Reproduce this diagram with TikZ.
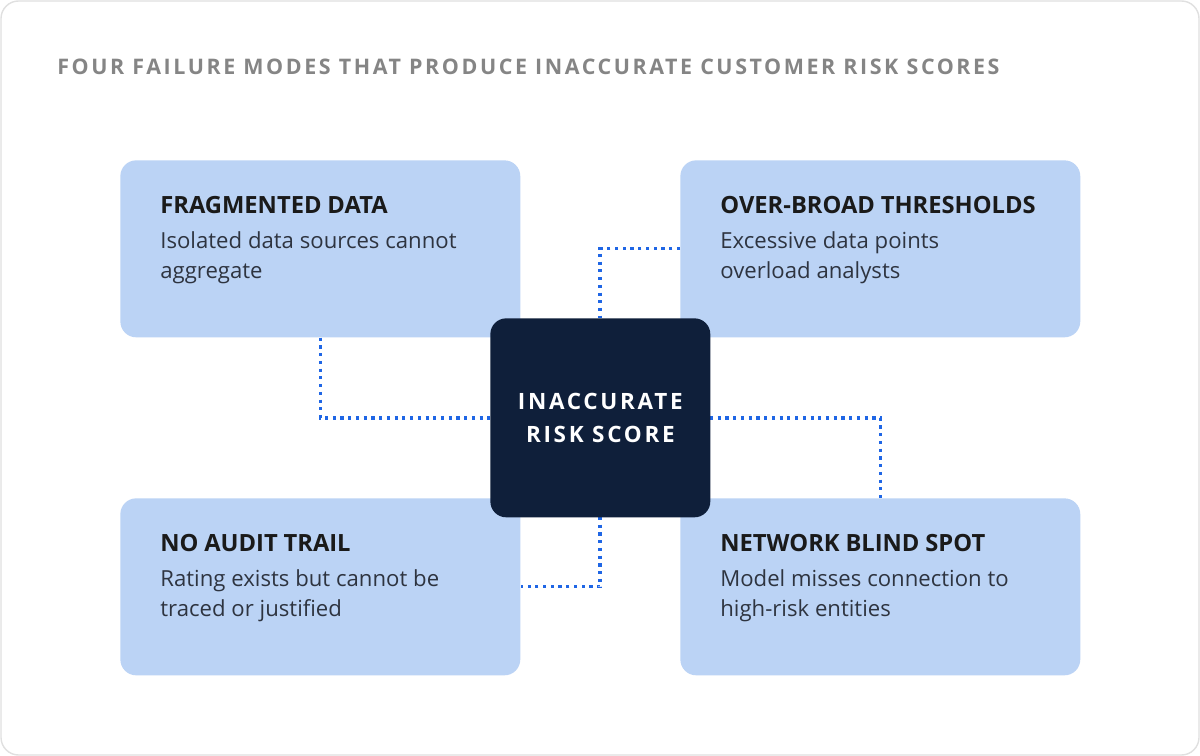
\documentclass[tikz,border=0pt]{standalone}
\usepackage{fontspec}
\setmainfont{Open Sans}
\newfontfamily\spacedfont[LetterSpace=12]{Open Sans}
\usetikzlibrary{positioning}
\definecolor{boxblue}{HTML}{BBD3F5}
\definecolor{navy}{HTML}{0F1F3A}
\definecolor{linkblue}{HTML}{1F66E5}
\definecolor{titlegray}{HTML}{858585}
\definecolor{inkdark}{HTML}{1A1A1A}
\definecolor{inkbody}{HTML}{2E3440}

\begin{document}
\begin{tikzpicture}[
    x=0.02cm, y=-0.02cm,
    mode/.style={fill=boxblue, rounded corners=9pt, minimum width=8cm, minimum height=3.54cm, anchor=north west, inner sep=0pt},
    core/.style={fill=navy, rounded corners=9pt, minimum width=4.4cm, minimum height=3.98cm, anchor=north west, text=white, align=center, font=\spacedfont\fontsize{12.8}{19}\selectfont\bfseries},
    label/.style={anchor=north west, align=left, inner sep=0pt, text width=7.4cm},
    link/.style={draw=linkblue, line width=1.8pt, dash pattern=on 1.8pt off 2.6pt}
]

    % Card
    \path[use as bounding box] (0,0) rectangle (1200,756);
    \draw[draw=black!12, fill=white, rounded corners=10pt, line width=0.8pt] (1,1) rectangle (1199,755);
    \node[anchor=west, inner sep=0pt, text=titlegray, font=\spacedfont\fontsize{12.2}{14}\selectfont\bfseries] (title) at (57,67) {FOUR FAILURE MODES THAT PRODUCE INACCURATE CUSTOMER RISK SCORES};

    % Failure modes
    \node[mode] (frag) at (120,160) {};
    \node[mode] (broad) at (680,160) {};
    \node[mode] (audit) at (120,498) {};
    \node[mode] (blind) at (680,498) {};

    \node[label] (fragtxt) at (160,196) {{\color{inkdark}\fontsize{13.5}{16}\selectfont\bfseries FRAGMENTED DATA\par}\vspace{3pt}{\color{inkbody}\fontsize{12.6}{17}\selectfont Isolated data sources cannot\\aggregate\par}};
    \node[label] (broadtxt) at (720,196) {{\color{inkdark}\fontsize{13.5}{16}\selectfont\bfseries OVER-BROAD THRESHOLDS\par}\vspace{3pt}{\color{inkbody}\fontsize{12.6}{17}\selectfont Excessive data points\\overload analysts\par}};
    \node[label] (audittxt) at (160,534) {{\color{inkdark}\fontsize{13.5}{16}\selectfont\bfseries NO AUDIT TRAIL\par}\vspace{3pt}{\color{inkbody}\fontsize{12.6}{17}\selectfont Rating exists but cannot be\\traced or justified\par}};
    \node[label] (blindtxt) at (720,534) {{\color{inkdark}\fontsize{13.5}{16}\selectfont\bfseries NETWORK BLIND SPOT\par}\vspace{3pt}{\color{inkbody}\fontsize{12.6}{17}\selectfont Model misses connection to\\high-risk entities\par}};

    % Links
    \draw[link] (frag.south) |- (490,418);
    \draw[link] (broad.west) -| (600,318);
    \draw[link] (710,418) -| (blind.north);
    \draw[link] (600,517) |- (audit.east);

    % Centre
    \node[core] (score) at (490,318) {INACCURATE\\RISK SCORE};
\end{tikzpicture}
\end{document}
